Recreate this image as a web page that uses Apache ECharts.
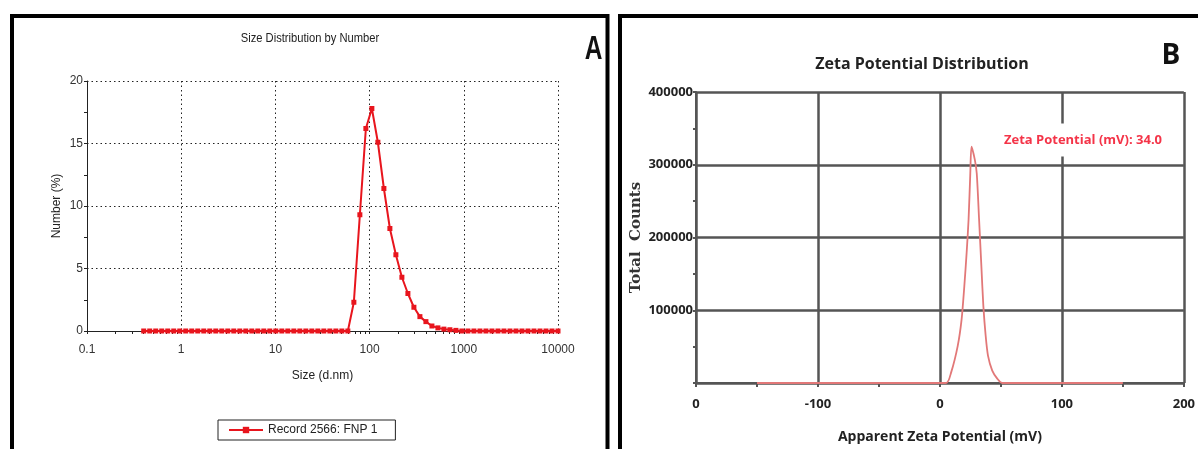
<!DOCTYPE html>
<html>
<head>
<meta charset="utf-8">
<script src="https://cdn.jsdelivr.net/npm/echarts@6/dist/echarts.min.js"></script>
<style>
  html, body { margin: 0; padding: 0; background: #fff; }
  #chart { width: 1198px; height: 449px; }
</style>
</head>
<body>
<div id="chart"></div>
<script>
// Panel A: size bins (d.nm) and number distribution (%)
const sizeBins = [
  0.4, 0.4632, 0.5365, 0.6213, 0.7195, 0.8332, 0.9649, 1.117, 1.294, 1.499,
  1.736, 2.01, 2.328, 2.696, 3.122, 3.615, 4.187, 4.849, 5.615, 6.503,
  7.531, 8.721, 10.1, 11.7, 13.54, 15.69, 18.17, 21.04, 24.36, 28.21,
  32.67, 37.84, 43.82, 50.75, 58.77, 68.06, 78.82, 91.28, 105.7, 122.4,
  141.8, 164.2, 190.1, 220.2, 255, 295.3, 342, 396.1, 458.7, 531.2,
  615.1, 712.4, 825, 955.4, 1106, 1281, 1484, 1718, 1990, 2305,
  2669, 3091, 3580, 4145, 4801, 5560, 6439, 7456, 8635, 10000
];
const numberPct = [
  0, 0, 0, 0, 0, 0, 0, 0, 0, 0,
  0, 0, 0, 0, 0, 0, 0, 0, 0, 0,
  0, 0, 0, 0, 0, 0, 0, 0, 0, 0,
  0, 0, 0, 0, 0, 2.3, 9.3, 16.2, 17.8, 15.1,
  11.4, 8.2, 6.1, 4.3, 3.0, 1.9, 1.15, 0.75, 0.4, 0.25,
  0.15, 0.1, 0.05, 0, 0, 0, 0, 0, 0, 0,
  0, 0, 0, 0, 0, 0, 0, 0, 0, 0
];
const sizeSeriesName = 'Record 2566: FNP 1';

// Panel B: zeta potential (mV) and total counts
const zetaMv = [-150, 5, 9.2, 14.6, 17.8, 20, 21.9, 23.5, 24.9, 25.9, 28.6, 30.2, 32.1, 34, 35.6, 37.5, 39.4, 42.9, 47, 51, 150];
const zetaCounts = [0, 0, 14600, 51000, 87700, 133000, 179000, 225000, 288000, 325000, 307000, 288000, 225000, 160000, 106000, 65000, 37700, 17000, 6000, 0, 0];
const zetaTicks = [-200, -100, 0, 100, 200];
const zetaTickLabels = ['0', '-100', '0', '100', '200'];
const zetaNote = 'Zeta Potential (mV): 34.0';

const SANS = '"Liberation Sans", Arial, sans-serif';
const BOLD = '"Open Sans", "Noto Sans", sans-serif';
const RED_A = '#e8151d';
const GRID_B = '#555555';

const chart = echarts.init(document.getElementById('chart'), null, { renderer: 'canvas' });

chart.setOption({
  animation: false,
  backgroundColor: '#fff',
  grid: [
    { left: 87, top: 81, width: 471, height: 250 },
    { left: 696, top: 92, width: 493, height: 292 }
  ],
  legend: {
    data: [sizeSeriesName],
    left: 218,
    top: 420,
    borderColor: '#222',
    borderWidth: 1,
    padding: [4, 18, 4, 10],
    itemWidth: 34,
    itemHeight: 8,
    itemGap: 10,
    textStyle: { fontFamily: SANS, fontSize: 12, color: '#222' }
  },
  xAxis: [
    {
      gridIndex: 0,
      type: 'log',
      logBase: 10,
      min: 0.1,
      max: 10000,
      name: 'Size (d.nm)',
      nameLocation: 'middle',
      nameGap: 39,
      nameTextStyle: { fontFamily: SANS, fontSize: 12, color: '#222' },
      axisLine: { show: true, lineStyle: { color: '#222', width: 1 } },
      axisTick: { show: true, length: 3, lineStyle: { color: '#222' } },
      minorTick: { show: true, splitNumber: 9, length: 3, lineStyle: { color: '#222' } },
      axisLabel: {
        margin: 13,
        fontFamily: SANS,
        fontSize: 12,
        color: '#333',
        formatter: (v) => String(v)
      },
      splitLine: { show: true, lineStyle: { color: '#222', type: [1.5, 3], width: 1 } }
    },
    {
      gridIndex: 1,
      type: 'value',
      min: -200,
      max: 200,
      interval: 100,
      name: 'Apparent Zeta Potential (mV)',
      nameLocation: 'middle',
      nameGap: 47,
      nameTextStyle: { fontFamily: BOLD, fontWeight: 'bold', fontSize: 14, color: '#222' },
      axisLine: { show: true, onZero: false, lineStyle: { color: GRID_B, width: 2 } },
      axisTick: { show: true, length: 4, lineStyle: { color: GRID_B, width: 2 } },
      minorTick: { show: true, splitNumber: 2, length: 4, lineStyle: { color: GRID_B, width: 2 } },
      axisLabel: {
        margin: 15,
        fontFamily: BOLD,
        fontWeight: 'bold',
        fontSize: 13,
        color: '#222',
        formatter: (v) => {
          const i = zetaTicks.indexOf(v);
          return i >= 0 ? zetaTickLabels[i] : '';
        }
      },
      splitLine: { show: true, lineStyle: { color: GRID_B, width: 2.5 } }
    }
  ],
  yAxis: [
    {
      gridIndex: 0,
      type: 'value',
      min: 0,
      max: 20,
      interval: 5,
      name: 'Number (%)',
      nameLocation: 'middle',
      nameGap: 24,
      nameTextStyle: { fontFamily: SANS, fontSize: 12, color: '#222' },
      axisLine: { show: true, lineStyle: { color: '#222', width: 1 } },
      axisTick: { show: true, length: 3, lineStyle: { color: '#222' } },
      minorTick: { show: true, splitNumber: 2, length: 3, lineStyle: { color: '#222' } },
      axisLabel: { margin: 4, fontFamily: SANS, fontSize: 12, color: '#333' },
      splitLine: { show: true, lineStyle: { color: '#222', type: [1.5, 3], width: 1 } }
    },
    {
      gridIndex: 1,
      type: 'value',
      min: 0,
      max: 400000,
      interval: 100000,
      name: 'Total  Counts',
      nameLocation: 'middle',
      nameGap: 52,
      nameTextStyle: { fontFamily: '"DejaVu Serif", serif', fontWeight: 'bold', fontSize: 15, color: '#333' },
      axisLine: { show: true, onZero: false, lineStyle: { color: GRID_B, width: 2 } },
      axisTick: { show: true, length: 3, lineStyle: { color: GRID_B, width: 2 } },
      minorTick: { show: true, splitNumber: 2, length: 3, lineStyle: { color: GRID_B, width: 2 } },
      axisLabel: {
        margin: 3,
        fontFamily: BOLD,
        fontWeight: 'bold',
        fontSize: 13,
        color: '#222',
        formatter: (v) => (v === 0 ? '' : String(v))
      },
      splitLine: { show: true, lineStyle: { color: GRID_B, width: 2.5 } }
    }
  ],
  series: [
    {
      name: sizeSeriesName,
      type: 'line',
      xAxisIndex: 0,
      yAxisIndex: 0,
      data: sizeBins.map((s, i) => [s, numberPct[i]]),
      symbol: 'rect',
      symbolSize: 5,
      itemStyle: { color: RED_A },
      lineStyle: { color: RED_A, width: 2 }
    },
    {
      name: 'zeta',
      type: 'line',
      xAxisIndex: 1,
      yAxisIndex: 1,
      data: zetaMv.map((m, i) => [m, zetaCounts[i]]),
      showSymbol: false,
      smooth: 0.25,
      lineStyle: { color: '#e27878', width: 1.8 },
      z: 5
    }
  ],
  graphic: [
    // panel frames
    {
      type: 'rect', z: 100, silent: true,
      shape: { x: 12, y: 16, width: 595.5, height: 460 },
      style: { fill: 'none', stroke: '#000', lineWidth: 4 }
    },
    {
      type: 'rect', z: 100, silent: true,
      shape: { x: 620, y: 16, width: 600, height: 460 },
      style: { fill: 'none', stroke: '#000', lineWidth: 4 }
    },
    {
      type: 'text', z: 100, silent: true,
      x: 310, y: 38, scaleX: 0.86,
      style: { text: 'Size Distribution by Number', fontFamily: SANS, fontSize: 13, fill: '#222', align: 'center', verticalAlign: 'middle' }
    },
    {
      type: 'text', z: 100, silent: true,
      x: 593.5, y: 50, scaleX: 0.72,
      style: { text: 'A', fontFamily: SANS, fontWeight: 'bold', fontSize: 34, fill: '#111', align: 'center', verticalAlign: 'middle' }
    },
    {
      type: 'text', z: 100, silent: true,
      x: 922, y: 64,
      style: { text: 'Zeta Potential Distribution', fontFamily: BOLD, fontWeight: 'bold', fontSize: 16, fill: '#222', align: 'center', verticalAlign: 'middle' }
    },
    {
      type: 'text', z: 100, silent: true,
      x: 1171, y: 56,
      style: { text: 'B', fontFamily: BOLD, fontWeight: 'bold', fontSize: 28, fill: '#111', align: 'center', verticalAlign: 'middle' }
    },
    {
      type: 'text', z: 100, silent: true,
      x: 1083, y: 140,
      style: {
        text: zetaNote, fontFamily: BOLD, fontWeight: 'bold', fontSize: 13, fill: '#f43448',
        align: 'center', verticalAlign: 'middle',
        backgroundColor: '#fff', padding: [10, 2]
      }
    }
  ]
});

window.addEventListener('resize', () => chart.resize());
</script>
</body>
</html>
